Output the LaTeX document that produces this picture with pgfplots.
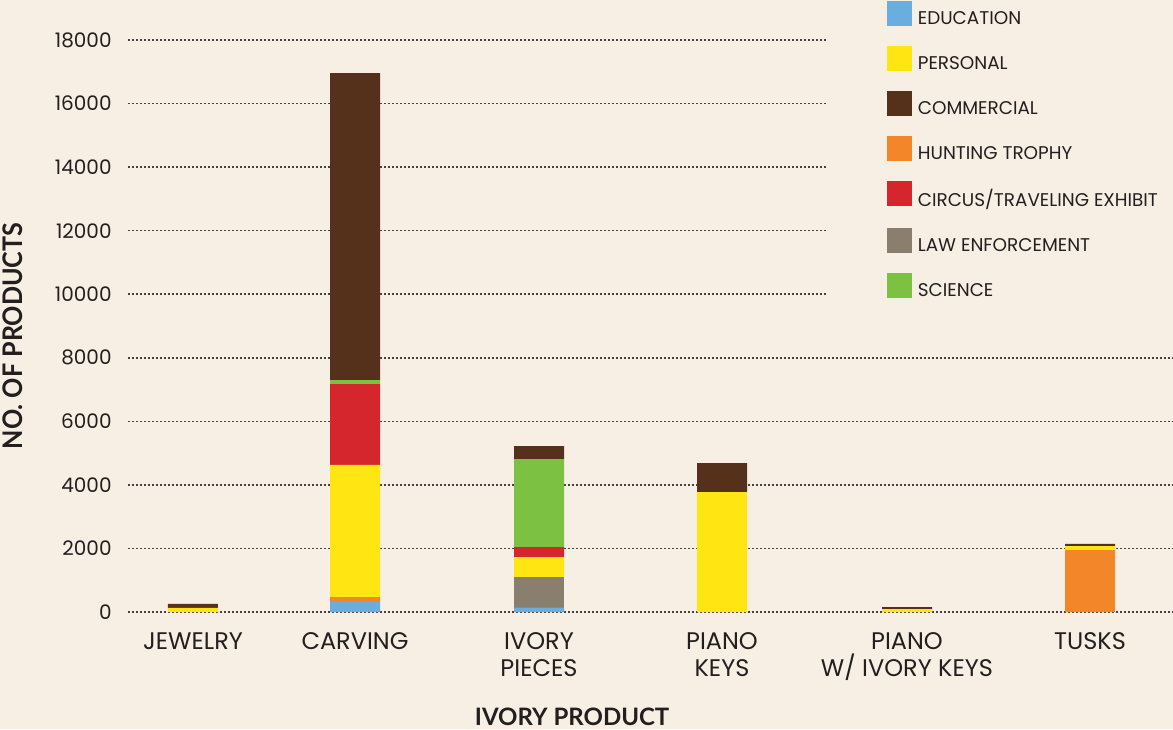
\documentclass[border=0pt]{standalone}
\usepackage{fontspec}
\setmainfont{Poppins}
\newfontfamily\labfont{Lato}
\newfontfamily\ylabfont{Lato}[FakeStretch=0.93]
\usepackage{pgfplots}
\pgfplotsset{compat=1.18}
\definecolor{bg}{HTML}{F7EFE3}
\definecolor{txt}{HTML}{231F20}
\definecolor{edu}{HTML}{6AAEE0}
\definecolor{per}{HTML}{FFE613}
\definecolor{com}{HTML}{55301A}
\definecolor{hun}{HTML}{F4862A}
\definecolor{cir}{HTML}{D4262C}
\definecolor{law}{HTML}{8A7E6E}
\definecolor{sci}{HTML}{7DC143}
\newcommand\lsq[1]{\addlegendimage{legend image code/.code={\fill[#1] (0pt,-2.8pt) rectangle (12pt,9.2pt);}}}
\begin{document}
\begin{tikzpicture}[x=1pt,y=1pt]
\path[use as bounding box, fill=bg] (-64,-58.5) rectangle (522.5,306);
\begin{axis}[
  scale only axis, width=522.5pt, height=286pt,
  xmin=128, xmax=1173, ymin=0, ymax=18000,
  ybar stacked, bar width=25pt,
  axis line style={draw=none}, tick style={draw=none},
  ytick={0,2000,...,18000},
  ymajorgrids,
  major grid style={txt!85, line width=0.75pt, dash pattern=on 0.9pt off 1.1pt},
  xtick={193,355,539,722,907,1090},
  xticklabels={JEWELRY, CARVING, {IVORY\\PIECES}, {PIANO\\KEYS}, {PIANO\\W/ IVORY KEYS}, TUSKS},
  xticklabel style={align=center, font=\fontsize{12}{13.5}\selectfont, text=txt, inner sep=0pt, anchor=north, yshift=-10pt},
  yticklabel style={font=\fontsize{10}{12}\selectfont, text=txt, inner sep=0pt, anchor=east, xshift=-8pt},
  /pgf/number format/assume math mode=true,
  scaled y ticks=false,
  y tick label style={/pgf/number format/1000 sep={}},
  xlabel={IVORY PRODUCT},
  xlabel style={at={(axis description cs:0.425,-0.1836)}, anchor=center, text=txt, font=\labfont\bfseries\fontsize{12}{14}\selectfont},
  ylabel={NO. OF PRODUCTS},
  ylabel style={at={(axis description cs:-0.1100,0.4825)}, anchor=center, text=txt, font=\ylabfont\bfseries\fontsize{13.5}{15}\selectfont},
  legend style={draw=none, fill=bg, at={(axis description cs:0.6699,1.1032)}, anchor=north west, inner xsep=29.5pt, inner ysep=10pt, outer sep=0pt, row sep=9.05pt, column sep=3pt, font=\fontsize{9.2}{11}\selectfont, nodes={inner sep=0pt, text=txt}},
  legend cell align=left,
]
\lsq{edu}\lsq{per}\lsq{com}\lsq{hun}\lsq{cir}\lsq{law}\lsq{sci}
\addplot[fill=edu, draw=none] coordinates {(193,0) (355,315) (539,135) (722,0) (907,0) (1090,0)};
\addplot[fill=hun, draw=none] coordinates {(193,0) (355,157) (539,0) (722,0) (907,0) (1090,1951)};
\addplot[fill=law, draw=none] coordinates {(193,0) (355,0) (539,966) (722,0) (907,0) (1090,0)};
\addplot[fill=per, draw=none] coordinates {(193,126) (355,4154) (539,629) (722,3776) (907,94) (1090,126)};
\addplot[fill=cir, draw=none] coordinates {(193,0) (355,2548) (539,315) (722,0) (907,0) (1090,0)};
\addplot[fill=sci, draw=none] coordinates {(193,0) (355,126) (539,2769) (722,0) (907,0) (1090,0)};
\addplot[fill=com, draw=none] coordinates {(193,126) (355,9660) (539,409) (722,912) (907,63) (1090,63)};
\legend{EDUCATION, PERSONAL, COMMERCIAL, HUNTING TROPHY, CIRCUS/TRAVELING EXHIBIT, LAW ENFORCEMENT, SCIENCE}
\end{axis}
\end{tikzpicture}
\end{document}
